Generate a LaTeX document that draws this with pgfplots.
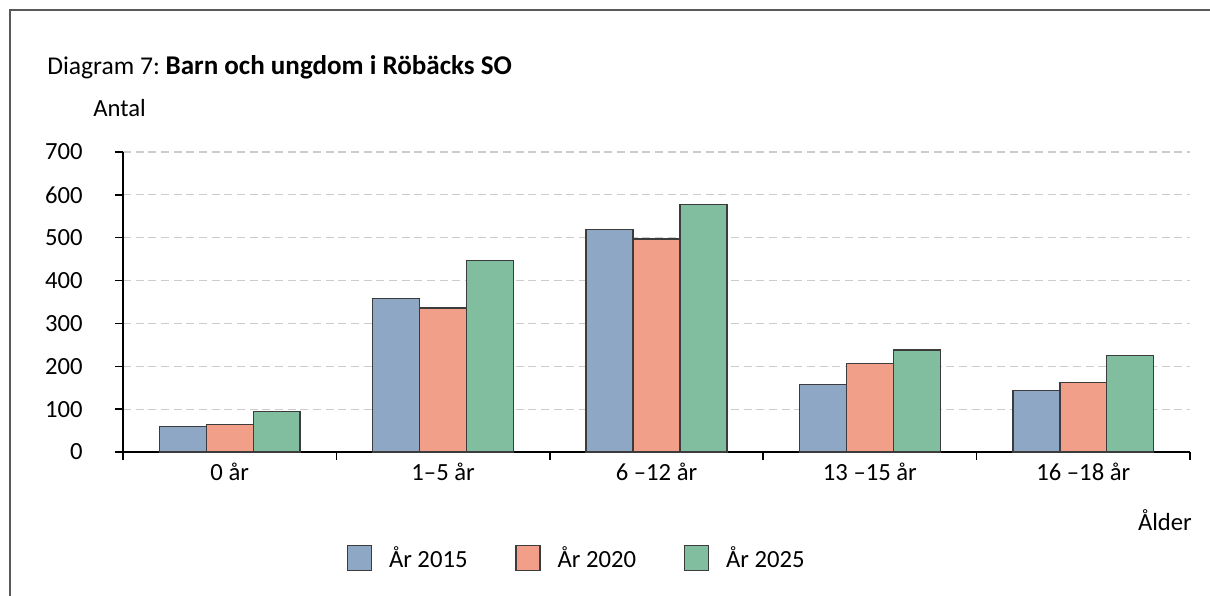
\documentclass[border=0pt]{standalone}
\usepackage{pgfplots}
\pgfplotsset{compat=1.18}
\usepackage{fontspec}
\setmainfont{Carlito}
\definecolor{cblue}{HTML}{8DA7C4}
\definecolor{cred}{HTML}{F29F89}
\definecolor{cgreen}{HTML}{80BE9F}
\definecolor{cedge}{HTML}{3C3C3C}
\newcommand{\lab}{\fontsize{18.5}{22}\selectfont}
\begin{document}
\begin{tikzpicture}
\useasboundingbox (0pt,0pt) rectangle (907.5pt,-447pt);
\draw[color=black!65, line width=1.1pt] (7.5pt,-450pt) -- (7.5pt,-7.5pt) -- (910pt,-7.5pt);
\begin{axis}[
  at={(92.25pt,-339pt)}, anchor=south west,
  scale only axis, width=800.25pt, height=225pt,
  xmin=-0.5, xmax=4.5, ymin=0, ymax=700,
  ybar=0pt, bar width=0.22,
  axis x line=bottom, axis y line=left,
  axis line style={-, line width=1.3pt, black},
  xtick={-0.5,0.5,1.5,2.5,3.5,4.5}, xticklabels={},
  extra x ticks={0,1,2,3,4},
  extra x tick labels={0 år,1–5 år,6 –12 år,13 –15 år,16 –18 år},
  extra x tick style={major tick length=0pt, grid=none,
     xticklabel style={inner sep=0pt, anchor=north, yshift=-8pt, font=\lab}},
  ytick={0,100,...,700},
  tick align=outside, major tick length=6pt,
  tick style={black, line width=1.1pt},
  yticklabel style={inner sep=0pt, anchor=east, xshift=-24pt, font=\lab},
  /pgf/number format/assume math mode=true,
  ymajorgrids=true,
  major grid style={color=black!20, line width=0.9pt, dash pattern=on 6pt off 3.5pt},
  legend style={draw=none, fill=none, at={(0.2099,-0.3533)}, anchor=west,
    inner sep=0pt, outer sep=0pt, font=\lab, nodes={inner sep=0pt},
    /tikz/every odd column/.append style={column sep=12.75pt},
    /tikz/every even column/.append style={column sep=36pt}},
  legend columns=3,
  legend image code/.code={\draw[#1, line width=0.8pt] (0pt,-9.4pt) rectangle (18pt,9.4pt);},
  clip=false,
]
\addplot[fill=cblue, draw=cedge, line width=1pt] coordinates {(0,59) (1,358) (2,519) (3,158) (4,144)};
\addplot[fill=cred, draw=cedge, line width=1pt] coordinates {(0,64) (1,336) (2,497) (3,207) (4,162)};
\addplot[fill=cgreen, draw=cedge, line width=1pt] coordinates {(0,95) (1,447) (2,577) (3,238) (4,225)};
\legend{År 2015, År 2020, År 2025}
\node[anchor=base west, inner sep=0pt] at (rel axis cs:-0.0712,1.26) {\fontsize{19.2}{23}\selectfont Diagram 7:\hspace{0.22em}\fontsize{20.3}{24}\selectfont\textbf{Barn och ungdom i Röbäcks SO}};
\node[anchor=base west, inner sep=0pt, font=\lab] at (rel axis cs:-0.0281,1.1167) {Antal};
\node[anchor=base east, inner sep=0pt, font=\lab] at (rel axis cs:1.0019,-0.26) {Ålder};
\end{axis}
\end{tikzpicture}
\end{document}
